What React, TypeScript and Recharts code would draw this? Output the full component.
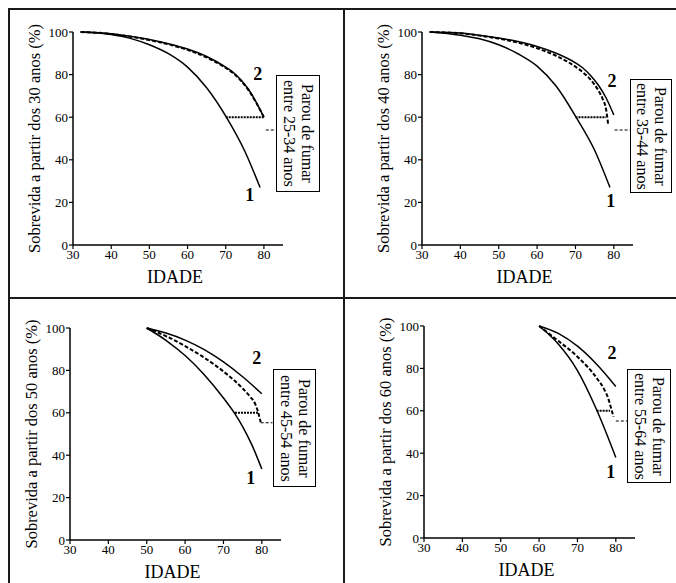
import { LineChart, Line, XAxis, YAxis, ReferenceDot } from "recharts";

const FONT = '"Liberation Serif", "Times New Roman", serif';

interface Pt {
  x: number;
  y: number;
}

// eixos
const xTicks = [30, 40, 50, 60, 70, 80];
const yTicks = [0, 20, 40, 60, 80, 100];

// 30 anos
const fumante30: Pt[] = [
  { x: 32, y: 100 }, { x: 40, y: 98.8 }, { x: 45, y: 97 }, { x: 50, y: 94 }, { x: 55, y: 89.8 },
  { x: 60, y: 83.5 }, { x: 65, y: 73.8 }, { x: 70, y: 60.5 }, { x: 75, y: 44 }, { x: 79, y: 27 },
];
const naoFumante30: Pt[] = [
  { x: 32, y: 100 }, { x: 40, y: 99.2 }, { x: 45, y: 98 }, { x: 50, y: 96.5 }, { x: 55, y: 94.5 },
  { x: 60, y: 92 }, { x: 65, y: 88.5 }, { x: 70, y: 83.5 }, { x: 72, y: 81 }, { x: 74, y: 77.5 },
  { x: 76, y: 73 }, { x: 78, y: 67 }, { x: 80, y: 60 },
];
const exFumante30: Pt[] = [
  { x: 32, y: 100 }, { x: 40, y: 99.1 }, { x: 45, y: 97.8 }, { x: 50, y: 96.2 }, { x: 55, y: 94.2 },
  { x: 60, y: 91.6 }, { x: 65, y: 88.1 }, { x: 70, y: 83.1 }, { x: 72, y: 80.6 }, { x: 74, y: 77.1 },
  { x: 76, y: 72.6 }, { x: 78, y: 66.7 }, { x: 80, y: 60 },
];
const nivel30: Pt[] = [{ x: 70, y: 60 }, { x: 80, y: 60 }];
const ligacao30: Pt[] = [{ x: 80.5, y: 54 }, { x: 83.2, y: 54 }];
const rotulos30 = [
  { x: 78.4, y: 80.3, t: "2" },
  { x: 76.3, y: 23.5, t: "1" },
];

// 40 anos
const fumante40: Pt[] = [
  { x: 32, y: 100 }, { x: 40, y: 98.5 }, { x: 45, y: 96.8 }, { x: 50, y: 94 }, { x: 55, y: 89.8 },
  { x: 60, y: 84 }, { x: 65, y: 74.5 }, { x: 70, y: 60.5 }, { x: 75, y: 44.5 }, { x: 79, y: 27 },
];
const naoFumante40: Pt[] = [
  { x: 32, y: 100 }, { x: 40, y: 99.5 }, { x: 45, y: 98.5 }, { x: 50, y: 97.2 }, { x: 55, y: 95.5 },
  { x: 60, y: 93.2 }, { x: 65, y: 90 }, { x: 70, y: 85.5 }, { x: 72, y: 83 }, { x: 74, y: 79.5 },
  { x: 76, y: 75 }, { x: 78, y: 69 }, { x: 80, y: 61 },
];
const exFumante40: Pt[] = [
  { x: 32, y: 100 }, { x: 40, y: 99.4 }, { x: 45, y: 98.3 }, { x: 50, y: 96.9 }, { x: 55, y: 95 },
  { x: 60, y: 92.4 }, { x: 65, y: 88.8 }, { x: 70, y: 83.7 }, { x: 72, y: 81 }, { x: 74, y: 77.5 },
  { x: 76, y: 72.5 }, { x: 77, y: 69 }, { x: 78, y: 63.5 }, { x: 78.5, y: 57 },
];
const nivel40: Pt[] = [{ x: 70, y: 60 }, { x: 78, y: 60 }];
const ligacao40: Pt[] = [{ x: 80.2, y: 54 }, { x: 84.2, y: 54 }];
const rotulos40 = [
  { x: 79.5, y: 77, t: "2" },
  { x: 79.2, y: 20.7, t: "1" },
];

// 50 anos
const fumante50: Pt[] = [
  { x: 50, y: 100 }, { x: 55, y: 94.2 }, { x: 60, y: 87 }, { x: 65, y: 78 }, { x: 70, y: 67 },
  { x: 73, y: 59.5 }, { x: 75, y: 53.5 }, { x: 77.5, y: 44.5 }, { x: 80, y: 33.5 },
];
const naoFumante50: Pt[] = [
  { x: 50, y: 100 }, { x: 55, y: 97.6 }, { x: 60, y: 94.3 }, { x: 65, y: 89.8 }, { x: 70, y: 84 },
  { x: 75, y: 77 }, { x: 80, y: 69 },
];
const exFumante50: Pt[] = [
  { x: 50, y: 100 }, { x: 55, y: 96.2 }, { x: 60, y: 91.5 }, { x: 65, y: 86 }, { x: 70, y: 79.5 },
  { x: 75, y: 71.5 }, { x: 77, y: 67.5 }, { x: 78.2, y: 64.5 }, { x: 79, y: 60.5 }, { x: 79.7, y: 55.5 },
];
const nivel50: Pt[] = [{ x: 73, y: 60 }, { x: 79, y: 60 }];
const ligacao50: Pt[] = [{ x: 79.7, y: 55.3 }, { x: 82.8, y: 55.3 }];
const rotulos50 = [
  { x: 78.7, y: 85.8, t: "2" },
  { x: 77.1, y: 29.2, t: "1" },
];

// 60 anos
const fumante60: Pt[] = [
  { x: 60, y: 100 }, { x: 65, y: 91.5 }, { x: 70, y: 79 }, { x: 75, y: 60.5 }, { x: 80, y: 38 },
];
const naoFumante60: Pt[] = [
  { x: 60, y: 100 }, { x: 65, y: 96.5 }, { x: 70, y: 90.5 }, { x: 75, y: 82 }, { x: 80, y: 71.5 },
];
const exFumante60: Pt[] = [
  { x: 60, y: 100 }, { x: 65, y: 93 }, { x: 70, y: 85.5 }, { x: 75, y: 75.5 }, { x: 77, y: 70 },
  { x: 78, y: 66 }, { x: 78.8, y: 61 }, { x: 79.4, y: 57.2 },
];
const nivel60: Pt[] = [{ x: 75, y: 60 }, { x: 78.5, y: 60 }];
const ligacao60: Pt[] = [{ x: 80, y: 55.2 }, { x: 82.9, y: 55.2 }];
const rotulos60 = [
  { x: 79, y: 87.3, t: "2" },
  { x: 78.7, y: 31.1, t: "1" },
];

const Y_W = 78;
const X_H = 64;
const M_TOP = 20;
const M_RIGHT = 10;

const panels = [
  {
    key: "30", titulo: "Sobrevida a partir dos 30 anos (%)", faixa: "entre 25-34 anos",
    fumante: fumante30, nunca: naoFumante30, parou: exFumante30, nivel: nivel30, ligacao: ligacao30, rotulos: rotulos30,
    left: -5, top: 12, plotW: 210, plotH: 213, box: { left: 276, top: 75, width: 44, height: 117 },
  },
  {
    key: "40", titulo: "Sobrevida a partir dos 40 anos (%)", faixa: "entre 35-44 anos",
    fumante: fumante40, nunca: naoFumante40, parou: exFumante40, nivel: nivel40, ligacao: ligacao40, rotulos: rotulos40,
    left: 344, top: 12, plotW: 211, plotH: 213, box: { left: 630, top: 79, width: 42, height: 114 },
  },
  {
    key: "50", titulo: "Sobrevida a partir dos 50 anos (%)", faixa: "entre 45-54 anos",
    fumante: fumante50, nunca: naoFumante50, parou: exFumante50, nivel: nivel50, ligacao: ligacao50, rotulos: rotulos50,
    left: -8, top: 308, plotW: 211, plotH: 212, box: { left: 273, top: 369, width: 43, height: 118 },
  },
  {
    key: "60", titulo: "Sobrevida a partir dos 60 anos (%)", faixa: "entre 55-64 anos",
    fumante: fumante60, nunca: naoFumante60, parou: exFumante60, nivel: nivel60, ligacao: ligacao60, rotulos: rotulos60,
    left: 346, top: 306, plotW: 211, plotH: 212, box: { left: 627, top: 369, width: 44, height: 114 },
  },
];

const tickStyle = { fill: "#000", fontSize: 13, fontFamily: FONT };

function Painel({ p }: { p: (typeof panels)[number] }) {
  const width = Y_W + p.plotW + M_RIGHT;
  const height = M_TOP + p.plotH + X_H;
  return (
    <div style={{ position: "absolute", left: p.left, top: p.top, width, height }}>
      <LineChart width={width} height={height} margin={{ top: M_TOP, right: M_RIGHT, bottom: 0, left: 0 }}>
        <XAxis
          type="number"
          dataKey="x"
          domain={[30, 85]}
          ticks={xTicks}
          interval={0}
          height={X_H}
          tick={tickStyle}
          tickSize={4}
          tickMargin={1}
          axisLine={{ stroke: "#000", strokeWidth: 1.5 }}
          tickLine={{ stroke: "#000", strokeWidth: 1.2 }}
          label={{ value: "IDADE", position: "center", dx: -3, fontSize: 18, fill: "#000", fontFamily: FONT }}
        />
        <YAxis
          type="number"
          domain={[0, 100]}
          ticks={yTicks}
          interval={0}
          width={Y_W}
          tick={tickStyle}
          tickSize={4}
          tickMargin={1}
          axisLine={{ stroke: "#000", strokeWidth: 1.5 }}
          tickLine={{ stroke: "#000", strokeWidth: 1.2 }}
          label={{ value: p.titulo, angle: -90, position: "center", fontSize: 16.5, fill: "#000", fontFamily: FONT }}
        />
        <Line data={p.fumante} dataKey="y" type="monotone" stroke="#000" strokeWidth={1.5} dot={false} isAnimationActive={false} />
        <Line data={p.nunca} dataKey="y" type="monotone" stroke="#000" strokeWidth={1.5} dot={false} isAnimationActive={false} />
        <Line data={p.parou} dataKey="y" type="monotone" stroke="#000" strokeWidth={2} strokeDasharray="4 2" dot={false} isAnimationActive={false} />
        <Line data={p.nivel} dataKey="y" type="linear" stroke="#000" strokeWidth={2} strokeDasharray="2 1" dot={false} isAnimationActive={false} />
        <Line data={p.ligacao} dataKey="y" type="linear" stroke="#000" strokeWidth={1.2} strokeDasharray="3 2" dot={false} isAnimationActive={false} />
        {p.rotulos.map((r) => (
          <ReferenceDot
            key={r.t}
            x={r.x}
            y={r.y}
            r={0}
            fill="none"
            stroke="none"
            ifOverflow="visible"
            label={{ value: r.t, position: "center", fontSize: 18, fontWeight: "bold", fill: "#000", fontFamily: FONT }}
          />
        ))}
      </LineChart>
    </div>
  );
}

export default function App() {
  return (
    <div style={{ position: "relative", width: 676, height: 583, overflow: "hidden", background: "#fff" }}>
      <style>{"html,body{margin:0;padding:0;overflow:hidden;background:#fff}"}</style>
      {panels.map((p) => (
        <Painel key={p.key} p={p} />
      ))}
      {panels.map((p) => (
        <div
          key={"box" + p.key}
          style={{
            position: "absolute",
            left: p.box.left,
            top: p.box.top,
            width: p.box.width,
            height: p.box.height,
            boxSizing: "border-box",
            border: "1.5px solid #000",
            background: "#fff",
            display: "flex",
            alignItems: "center",
            justifyContent: "center",
            fontFamily: FONT,
            fontSize: 16,
            lineHeight: "18px",
            color: "#000",
          }}
        >
          <div style={{ writingMode: "vertical-rl", textAlign: "center", whiteSpace: "nowrap" }}>
            Parou de fumar
            <br />
            {p.faixa}
          </div>
        </div>
      ))}
      {/* moldura da tabela */}
      <div style={{ position: "absolute", left: 8, top: 8, width: 2, height: 583, background: "#1a1a1a" }} />
      <div style={{ position: "absolute", left: 8, top: 8, width: 676, height: 2, background: "#1a1a1a" }} />
      <div style={{ position: "absolute", left: 343, top: 8, width: 2, height: 583, background: "#1a1a1a" }} />
      <div style={{ position: "absolute", left: 8, top: 297, width: 676, height: 2, background: "#1a1a1a" }} />
    </div>
  );
}
